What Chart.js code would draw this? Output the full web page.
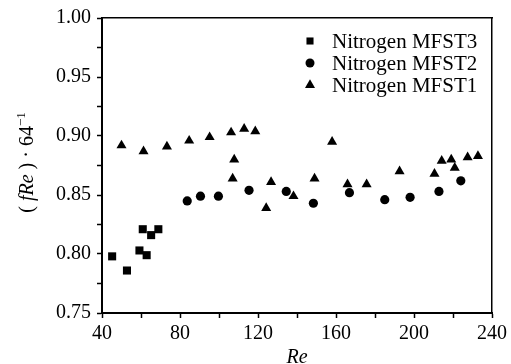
<!DOCTYPE html>
<html>
<head>
<meta charset="utf-8">
<script src="https://cdn.jsdelivr.net/npm/chart.js@4.4.1/dist/chart.umd.min.js"></script>
<style>
  body { margin: 0; background: #fff; }
  #wrap { width: 511px; height: 364px; }
</style>
</head>
<body>
<div id="wrap"><canvas id="chart"></canvas></div>
<script>
// values
const seriesNames = ['Nitrogen MFST3', 'Nitrogen MFST2', 'Nitrogen MFST1'];

const mfst3Re = [45.2, 52.8, 59.2, 60.9, 62.9, 65.2, 68.9];
const mfst3F = [0.798, 0.786, 0.803, 0.821, 0.799, 0.816, 0.821];

const mfst2Re = [83.7, 90.5, 99.7, 115.4, 134.5, 148.4, 166.9, 185.0, 198.0, 212.8, 224.0];
const mfst2F = [0.845, 0.849, 0.849, 0.854, 0.853, 0.843, 0.852, 0.846, 0.848, 0.853, 0.862];

const mfst1Re = [50.0, 61.3, 73.3, 84.7, 95.2, 106.2, 107.8, 107.0, 112.9, 118.6, 124.2, 126.7,
  138.2, 149.0, 158.0, 165.9, 175.7, 192.6, 210.5, 214.2, 219.1, 220.9, 227.5, 232.8];
const mfst1F = [0.892, 0.887, 0.891, 0.896, 0.899, 0.903, 0.880, 0.864, 0.906, 0.904, 0.839, 0.861,
  0.849, 0.864, 0.895, 0.859, 0.859, 0.870, 0.868, 0.879, 0.880, 0.873, 0.882, 0.883];

const xTickLabels = [40, 80, 120, 160, 200, 240];
const yTickLabels = [0.75, 0.80, 0.85, 0.90, 0.95, 1.00];

const FONT = "'Liberation Serif', 'Times New Roman', serif";
Chart.defaults.font.family = FONT;
Chart.defaults.color = '#000';

function toPoints(xs, ys) {
  return xs.map((x, i) => ({ x: x, y: ys[i] }));
}

// y title with italic f and Re, drawn rotated
const yTitleParts = [
  { text: '( ', italic: false },
  { text: 'f', italic: true },
  { text: 'Re', italic: true },
  { text: ' )', italic: false },
  { text: ' · ', italic: false },
  { text: '64', italic: false },
  { text: '−1', italic: false, sup: true },
];

const titlePlugin = {
  id: 'yTitle',
  afterDraw(chart) {
    const ctx = chart.ctx;
    const area = chart.chartArea;
    ctx.save();
    ctx.translate(33, (area.top + area.bottom) / 2 - 3);
    ctx.rotate(-Math.PI / 2);
    ctx.fillStyle = '#000';
    ctx.textBaseline = 'alphabetic';
    const fontOf = p => (p.italic ? 'italic ' : '') + (p.sup ? '13px ' : '20px ') + FONT;
    let total = 0;
    yTitleParts.forEach(p => { ctx.font = fontOf(p); total += ctx.measureText(p.text).width; });
    let x = -total / 2;
    yTitleParts.forEach(p => {
      ctx.font = fontOf(p);
      ctx.fillText(p.text, x, p.sup ? -8 : 0);
      x += ctx.measureText(p.text).width;
    });
    ctx.restore();
  }
};

// legend drawn inside the plot, top right
const legendPlugin = {
  id: 'innerLegend',
  afterDraw(chart) {
    const ctx = chart.ctx;
    const area = chart.chartArea;
    ctx.save();
    chart.data.datasets.forEach((ds, i) => {
      const y = area.top + 23 + i * 22;
      const mx = area.right - 182;
      ctx.fillStyle = '#000';
      ctx.strokeStyle = '#000';
      Chart.helpers.drawPoint(ctx, {
        pointStyle: ds.pointStyle,
        radius: ds.pointStyle === 'rect' ? 5 : (ds.pointStyle === 'circle' ? 4.5 : 5.8),
        borderWidth: 0
      }, mx, y);
      ctx.font = '21px ' + FONT;
      ctx.textBaseline = 'middle';
      ctx.fillText(ds.label, mx + 22, y + 1);
    });
    ctx.restore();
  }
};

const ctx = document.getElementById('chart').getContext('2d');
new Chart(ctx, {
  type: 'scatter',
  data: {
    datasets: [
      { label: seriesNames[0], data: toPoints(mfst3Re, mfst3F), pointStyle: 'rect', pointRadius: 5.7 },
      { label: seriesNames[1], data: toPoints(mfst2Re, mfst2F), pointStyle: 'circle', pointRadius: 4.6 },
      { label: seriesNames[2], data: toPoints(mfst1Re, mfst1F), pointStyle: 'triangle', pointRadius: 5.8 },
    ].map(d => Object.assign(d, {
      backgroundColor: '#000', borderColor: '#000', borderWidth: 0, pointHoverRadius: d.pointRadius
    }))
  },
  options: {
    responsive: true,
    maintainAspectRatio: false,
    animation: false,
    layout: { padding: { left: 0, top: 17, right: 14, bottom: 0 } },
    plugins: { legend: { display: false }, tooltip: { enabled: false } },
    scales: {
      x: {
        type: 'linear', min: 40, max: 240,
        afterFit: s => { s.height = 51; },
        grid: { display: true, drawOnChartArea: false, tickLength: 5, tickColor: '#000', tickWidth: 1.5 },
        border: { display: true, color: '#000', width: 2 },
        ticks: {
          stepSize: 20, autoSkip: false, maxRotation: 0, padding: 4,
          font: { size: 20 },
          callback: v => xTickLabels.includes(v) ? String(v) : ''
        },
        title: { display: true, text: 'Re', font: { size: 20, style: 'italic', lineHeight: 0.6 }, padding: 0 }
      },
      y: {
        type: 'linear', min: 0.75, max: 1.0,
        afterFit: s => { s.width = 102; },
        grid: { display: true, drawOnChartArea: false, tickLength: 5, tickColor: '#000', tickWidth: 1.5 },
        border: { display: true, color: '#000', width: 2 },
        ticks: {
          stepSize: 0.025, autoSkip: false, padding: 6,
          font: { size: 20 },
          callback: v => yTickLabels.some(t => Math.abs(t - v) < 1e-6) ? v.toFixed(2) : ''
        }
      },
      x2: {
        type: 'linear', position: 'top', min: 40, max: 240,
        afterFit: s => { s.height = 0; },
        grid: { display: false },
        border: { display: true, color: '#000', width: 1.5 },
        ticks: { display: false }
      },
      y2: {
        type: 'linear', position: 'right', min: 0.75, max: 1.0,
        afterFit: s => { s.width = 0; },
        grid: { display: false },
        border: { display: true, color: '#000', width: 1.5 },
        ticks: { display: false }
      }
    }
  },
  plugins: [titlePlugin, legendPlugin]
});
</script>
</body>
</html>
